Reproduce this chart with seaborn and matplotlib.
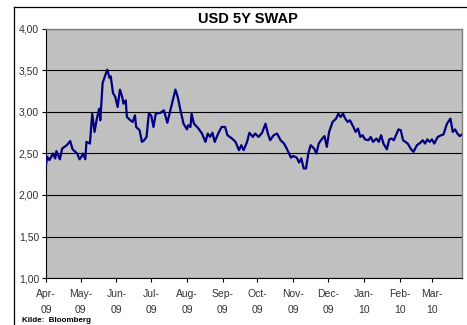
import pandas as pd
import numpy as np
import matplotlib
matplotlib.use("Agg")
import matplotlib.pyplot as plt
import matplotlib.dates as mdates
from matplotlib.ticker import FuncFormatter, MultipleLocator
from matplotlib.lines import Line2D
import seaborn as sns

# USD 5Y swap
dates = [
    "2009-04-01", "2009-04-02", "2009-04-04", "2009-04-07", "2009-04-09", "2009-04-10",
    "2009-04-13", "2009-04-15", "2009-04-19", "2009-04-22", "2009-04-24", "2009-04-28",
    "2009-04-30", "2009-05-02", "2009-05-03", "2009-05-05", "2009-05-06", "2009-05-09",
    "2009-05-11", "2009-05-13", "2009-05-15", "2009-05-17", "2009-05-18", "2009-05-20",
    "2009-05-22", "2009-05-24", "2009-05-26", "2009-05-27", "2009-05-29", "2009-05-31",
    "2009-06-02", "2009-06-04", "2009-06-06", "2009-06-07", "2009-06-09", "2009-06-10",
    "2009-06-13", "2009-06-15", "2009-06-17", "2009-06-18", "2009-06-21", "2009-06-23",
    "2009-06-25", "2009-06-27", "2009-06-29", "2009-07-01", "2009-07-03", "2009-07-05",
    "2009-07-09", "2009-07-12", "2009-07-15", "2009-07-18", "2009-07-22", "2009-07-24",
    "2009-07-27", "2009-07-29", "2009-08-01", "2009-08-02", "2009-08-04", "2009-08-05",
    "2009-08-07", "2009-08-11", "2009-08-14", "2009-08-17", "2009-08-19", "2009-08-21",
    "2009-08-23", "2009-08-25", "2009-08-28", "2009-08-31", "2009-09-03", "2009-09-05",
    "2009-09-09", "2009-09-12", "2009-09-15", "2009-09-17", "2009-09-19", "2009-09-22",
    "2009-09-24", "2009-09-27", "2009-09-29", "2009-10-02", "2009-10-05", "2009-10-08",
    "2009-10-10", "2009-10-12", "2009-10-15", "2009-10-18", "2009-10-21", "2009-10-24",
    "2009-10-27", "2009-10-30", "2009-11-01", "2009-11-04", "2009-11-06", "2009-11-08",
    "2009-11-10", "2009-11-12", "2009-11-14", "2009-11-16", "2009-11-19", "2009-11-21",
    "2009-11-23", "2009-11-26", "2009-11-28", "2009-11-30", "2009-12-02", "2009-12-05",
    "2009-12-08", "2009-12-10", "2009-12-12", "2009-12-14", "2009-12-16", "2009-12-18",
    "2009-12-20", "2009-12-23", "2009-12-25", "2009-12-27", "2009-12-29", "2009-12-31",
    "2010-01-02", "2010-01-05", "2010-01-07", "2010-01-09", "2010-01-12", "2010-01-14",
    "2010-01-16", "2010-01-18", "2010-01-21", "2010-01-23", "2010-01-25", "2010-01-27",
    "2010-01-31", "2010-02-02", "2010-02-04", "2010-02-08", "2010-02-11", "2010-02-13",
    "2010-02-16", "2010-02-19", "2010-02-21", "2010-02-23", "2010-02-25", "2010-02-27",
    "2010-03-01", "2010-03-03", "2010-03-06", "2010-03-09", "2010-03-11", "2010-03-14",
    "2010-03-17", "2010-03-19", "2010-03-21", "2010-03-23", "2010-03-25", "2010-03-27",
]
swap = [
    2.36, 2.46, 2.42, 2.50, 2.44, 2.53,
    2.43, 2.56, 2.60, 2.65, 2.55, 2.50,
    2.43, 2.47, 2.50, 2.43, 2.64, 2.62,
    2.98, 2.76, 2.92, 3.04, 2.90, 3.35,
    3.43, 3.51, 3.41, 3.43, 3.23, 3.18,
    3.06, 3.27, 3.18, 3.10, 3.14, 2.94,
    2.90, 2.88, 2.96, 2.82, 2.78, 2.64,
    2.66, 2.70, 2.98, 2.96, 2.82, 2.98,
    2.99, 3.02, 2.87, 3.04, 3.27, 3.18,
    2.98, 2.86, 2.79, 2.84, 2.82, 2.98,
    2.86, 2.80, 2.74, 2.64, 2.74, 2.70,
    2.75, 2.64, 2.74, 2.82, 2.82, 2.72,
    2.68, 2.64, 2.54, 2.60, 2.54, 2.64,
    2.75, 2.70, 2.74, 2.70, 2.75, 2.86,
    2.74, 2.66, 2.72, 2.74, 2.66, 2.62,
    2.54, 2.45, 2.47, 2.45, 2.39, 2.44,
    2.32, 2.32, 2.50, 2.60, 2.56, 2.50,
    2.62, 2.68, 2.71, 2.58, 2.76, 2.88,
    2.92, 2.98, 2.94, 2.98, 2.92, 2.88,
    2.90, 2.82, 2.76, 2.80, 2.70, 2.72,
    2.67, 2.66, 2.70, 2.64, 2.68, 2.64,
    2.72, 2.62, 2.55, 2.67, 2.68, 2.66,
    2.79, 2.78, 2.66, 2.62, 2.55, 2.52,
    2.60, 2.63, 2.66, 2.62, 2.67, 2.64,
    2.67, 2.62, 2.70, 2.72, 2.73, 2.86,
    2.92, 2.76, 2.79, 2.74, 2.71, 2.73,
]

title = "USD 5Y SWAP"
source = "Kilde: Bloomberg"

df = pd.DataFrame({"dato": pd.to_datetime(dates), "rente": swap})

plt.rcParams["font.family"] = ["Liberation Sans", "DejaVu Sans"]

fig = plt.figure(figsize=(4.67, 3.25), dpi=100)
ax = fig.add_axes([0.0985, 0.1446, 0.8908, 0.7662])
ax.set_facecolor("#c0c0c0")

sns.lineplot(data=df, x="dato", y="rente", ax=ax, color="#000080",
             linewidth=1.6, zorder=3)

# akser
ax.set_ylim(1.0, 4.0)
ax.yaxis.set_major_locator(MultipleLocator(0.5))
ax.yaxis.set_major_formatter(FuncFormatter(lambda v, p: f"{v:.2f}".replace(".", ",")))
ax.set_xlim(pd.Timestamp("2009-04-01"), pd.Timestamp("2010-03-27"))
ax.xaxis.set_major_locator(mdates.MonthLocator())
ax.xaxis.set_major_formatter(mdates.DateFormatter("%b-\n%y"))
ax.set_xlabel("")
ax.set_ylabel("")

ax.grid(True, axis="y", color="black", linewidth=0.8)
ax.grid(False, axis="x")
ax.set_axisbelow(True)

ax.tick_params(axis="both", direction="out", length=3, width=0.8, color="black",
               labelsize=7.5, labelcolor="#333333", pad=2)
ax.tick_params(axis="x", pad=5)
for lbl in ax.get_xticklabels():
    lbl.set_horizontalalignment("center")
    lbl.set_linespacing(1.7)

for s in ["left", "bottom"]:
    ax.spines[s].set_color("black")
    ax.spines[s].set_linewidth(0.8)
for s in ["top", "right"]:
    ax.spines[s].set_color("#808080")
    ax.spines[s].set_linewidth(1.0)

# tittel og kilde
fig.text(0.53, 0.942, title, ha="center", va="center", fontsize=10.5,
         fontweight="bold")
fig.text(0.047, 0.004, "  ".join(source.split(" ")), ha="left", va="bottom",
         fontsize=5.8, fontweight="bold", fontstretch="expanded")

# ramme rundt
fig.add_artist(Line2D([0.030, 0.030], [0.0, 0.978], color="black", linewidth=0.9,
                      transform=fig.transFigure))
fig.add_artist(Line2D([0.030, 1.0], [0.978, 0.978], color="black", linewidth=0.9,
                      transform=fig.transFigure))

fig.savefig("out.png", dpi=100)
